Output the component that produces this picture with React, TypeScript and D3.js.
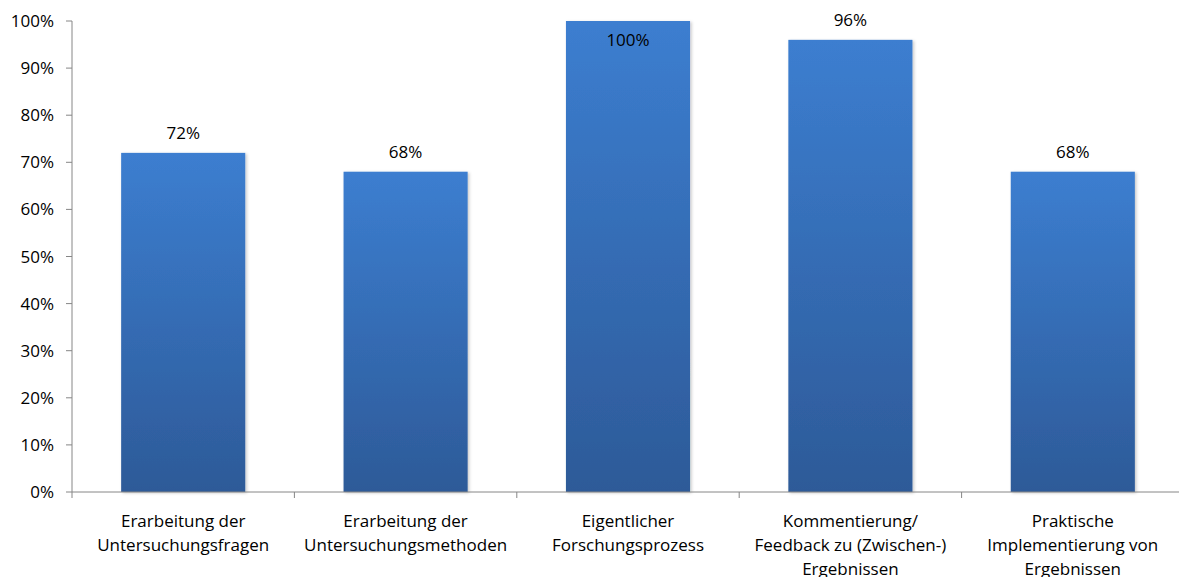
import React from "react";
import * as d3 from "d3";

const categories: string[][] = [
  ["Erarbeitung der", "Untersuchungsfragen"],
  ["Erarbeitung der", "Untersuchungsmethoden"],
  ["Eigentlicher", "Forschungsprozess"],
  ["Kommentierung/", "Feedback zu (Zwischen-)", "Ergebnissen"],
  ["Praktische", "Implementierung von", "Ergebnissen"],
];
const values: number[] = [0.72, 0.68, 1.0, 0.96, 0.68];
const yTicks: number[] = [0, 0.1, 0.2, 0.3, 0.4, 0.5, 0.6, 0.7, 0.8, 0.9, 1.0];

const W = 1179;
const H = 577;
const left = 72;
const right = 1184;
const top = 21;
const bottom = 492;
const font = "'Open Sans', Lato, sans-serif";

export default function App() {
  const keys = categories.map((c) => c.join(" "));
  const x = d3
    .scaleBand<string>()
    .domain(keys)
    .range([left, right])
    .paddingInner(0.442)
    .paddingOuter(0.221);
  const y = d3.scaleLinear().domain([0, 1]).range([bottom, top]);
  const fmt = d3.format(".0%");
  const step = x.step();
  const boundaries = d3.range(keys.length + 1).map((i) => left + i * step);

  return (
    <div style={{ position: "absolute", left: 0, top: 0 }}>
      <svg width={W} height={H} style={{ display: "block", background: "#fff" }}>
        <defs>
          <linearGradient id="barFill" x1="0" y1="0" x2="0" y2="1">
            <stop offset="0%" stopColor="#3c7ed0" />
            <stop offset="100%" stopColor="#2d5a98" />
          </linearGradient>
          <filter id="barShadow" x="-10%" y="-10%" width="120%" height="120%">
            <feDropShadow dx="1.5" dy="1" stdDeviation="1.5" floodColor="#000" floodOpacity="0.22" />
          </filter>
        </defs>

        {/* bars */}
        {values.map((v, i) => (
          <rect
            key={keys[i]}
            x={x(keys[i])}
            y={y(v)}
            width={x.bandwidth()}
            height={y(0) - y(v)}
            fill="url(#barFill)"
            filter="url(#barShadow)"
          />
        ))}

        {/* y axis */}
        <line x1={left} x2={left} y1={top} y2={bottom} stroke="#868686" strokeWidth={1} />
        {yTicks.map((t) => (
          <g key={t}>
            <line x1={left - 6} x2={left} y1={y(t)} y2={y(t)} stroke="#868686" />
            <text
              x={54}
              y={y(t) + 6}
              textAnchor="end"
              fontFamily={font}
              fontSize={17}
              fill="#000"
            >
              {fmt(t)}
            </text>
          </g>
        ))}

        {/* x axis */}
        <line x1={left} x2={right} y1={bottom} y2={bottom} stroke="#868686" />
        {boundaries.map((bx, i) => (
          <line key={i} x1={bx} x2={bx} y1={bottom} y2={bottom + 6} stroke="#868686" />
        ))}
        {categories.map((lines, i) => (
          <text
            key={keys[i]}
            x={(x(keys[i]) ?? 0) + x.bandwidth() / 2}
            textAnchor="middle"
            fontFamily={font}
            fontSize={17}
            fill="#000"
          >
            {lines.map((ln, j) => (
              <tspan key={j} x={(x(keys[i]) ?? 0) + x.bandwidth() / 2} y={527 + j * 24}>
                {ln}
              </tspan>
            ))}
          </text>
        ))}

        {/* value labels */}
        {values.map((v, i) => {
          const ty = y(v) - 14;
          const labelY = ty - 12 < 10 ? y(v) + 25 : ty;
          return (
            <text
              key={keys[i]}
              x={(x(keys[i]) ?? 0) + x.bandwidth() / 2}
              y={labelY}
              textAnchor="middle"
              fontFamily={font}
              fontSize={17}
              fill="#000"
            >
              {fmt(v)}
            </text>
          );
        })}
      </svg>
    </div>
  );
}
